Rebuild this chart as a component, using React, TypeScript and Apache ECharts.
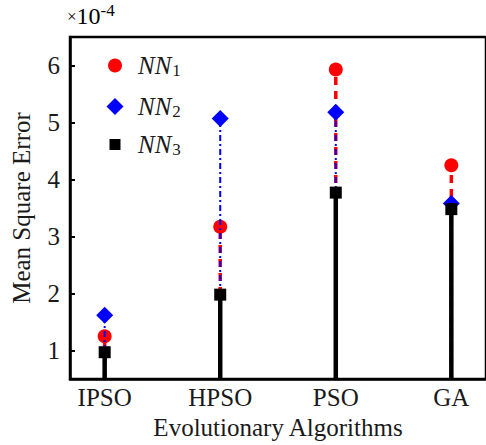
import React, { useEffect, useRef } from "react";
import * as echarts from "echarts";

const categories = ["IPSO", "HPSO", "PSO", "GA"];
const nn1 = [1.25, 3.17, 5.93, 4.25];
const nn2 = [1.62, 5.07, 5.18, 3.58];
const nn3 = [0.97, 1.98, 3.77, 3.48];
const yTicks = [1, 2, 3, 4, 5, 6];

const FONT = "Liberation Serif";
const TXT = "#1a1a1a";
const FS = 25;

type StemCfg = {
  name: string;
  values: number[];
  color: string;
  lineWidth: number;
  lineDash: number[] | null;
  marker: "circle" | "diamond" | "square";
  size: number;
};

const stems: StemCfg[] = [
  { name: "NN1", values: nn1, color: "#ff0000", lineWidth: 3.5, lineDash: [8, 6], marker: "circle", size: 14 },
  { name: "NN2", values: nn2, color: "#0000ff", lineWidth: 2, lineDash: [6, 3, 2, 3], marker: "diamond", size: 17 },
  { name: "NN3", values: nn3, color: "#000000", lineWidth: 4.5, lineDash: null, marker: "square", size: 12 },
];

function makeSeries(cfg: StemCfg) {
  return {
    type: "custom",
    name: cfg.name,
    itemStyle: { color: cfg.color },
    data: cfg.values.map((v, i) => [i + 1, v]),
    encode: { x: 0, y: 1 },
    renderItem: (params: any, api: any) => {
      const p = api.coord([api.value(0), api.value(1)]);
      const cs = params.coordSys;
      const bottom = cs.y + cs.height;
      const children: any[] = [
        {
          type: "line",
          shape: { x1: p[0], y1: bottom, x2: p[0], y2: p[1] },
          style: {
            stroke: cfg.color,
            lineWidth: cfg.lineWidth,
            lineDash: cfg.lineDash || undefined,
            fill: null,
          },
        },
      ];
      const h = cfg.size / 2;
      if (cfg.marker === "circle") {
        children.push({ type: "circle", shape: { cx: p[0], cy: p[1], r: h }, style: { fill: cfg.color } });
      } else if (cfg.marker === "diamond") {
        children.push({
          type: "polygon",
          shape: { points: [[p[0], p[1] - h], [p[0] + h, p[1]], [p[0], p[1] + h], [p[0] - h, p[1]]] },
          style: { fill: cfg.color },
        });
      } else {
        children.push({ type: "rect", shape: { x: p[0] - h, y: p[1] - h, width: cfg.size, height: cfg.size }, style: { fill: cfg.color } });
      }
      return { type: "group", children };
    },
  };
}

const rich = {
  a: { fontFamily: FONT, fontStyle: "italic", fontSize: FS, color: TXT },
  b: { fontFamily: FONT, fontSize: 17, color: TXT, padding: [10, 0, 0, 1] },
};

function makeLegend(name: string, icon: string, w: number, h: number, cy: number) {
  const left = 110 - w / 2;
  return {
    data: [{ name, icon }],
    left,
    top: cy - 15,
    itemWidth: w,
    itemHeight: h,
    selectedMode: false,
    formatter: (n: string) => `{a|NN}{b|${n.slice(2)}}`,
    textStyle: { rich, padding: [0, 0, 0, 133 - (left + w + 5)] },
  };
}

export default function App() {
  const ref = useRef<HTMLDivElement>(null);
  useEffect(() => {
    document.body.style.margin = "0";
    const chart = echarts.init(ref.current!, null, { renderer: "svg" });
    chart.setOption({
      animation: false,
      backgroundColor: "#ffffff",
      grid: { left: 70, top: 37, right: -3, bottom: 65, show: true, borderColor: "#000", borderWidth: 2.5 },
      xAxis: {
        type: "value",
        min: 0.7,
        max: 4.3,
        splitNumber: 4,
        name: "Evolutionary Algorithms",
        nameLocation: "middle",
        nameGap: 36,
        nameTextStyle: { fontFamily: FONT, fontSize: FS, color: TXT },
        axisLine: { lineStyle: { color: "#000", width: 2.5 } },
        axisTick: { show: false },
        splitLine: { show: false },
        axisLabel: {
          fontFamily: FONT,
          fontSize: FS,
          color: TXT,
          margin: 6,
          showMinLabel: false,
          showMaxLabel: false,
          formatter: (v: number) => {
            const r = Math.round(v);
            return Math.abs(v - r) < 1e-6 && r >= 1 && r <= categories.length ? categories[r - 1] : "";
          },
        },
      },
      yAxis: {
        type: "value",
        min: 0.5,
        max: 6.5,
        splitNumber: 6,
        name: "Mean Square Error",
        nameLocation: "middle",
        nameGap: 36,
        nameTextStyle: { fontFamily: FONT, fontSize: FS, color: TXT },
        axisLine: { lineStyle: { color: "#000", width: 2.5 } },
        axisTick: { inside: true, length: 5, lineStyle: { color: "#000", width: 2 } },
        splitLine: { show: false },
        axisLabel: {
          fontFamily: FONT,
          fontSize: FS,
          color: TXT,
          margin: 10,
          showMinLabel: false,
          showMaxLabel: false,
          formatter: (v: number) => {
            const r = Math.round(v);
            return Math.abs(v - r) < 1e-6 && yTicks.includes(r) ? String(r) : "";
          },
        },
      },
      legend: [
        makeLegend("NN1", "circle", 14, 14, 63),
        makeLegend("NN2", "diamond", 17, 17, 104),
        makeLegend("NN3", "rect", 11, 11, 142),
      ],
      graphic: [
        {
          type: "text",
          left: 67,
          top: 2,
          style: {
            text: "{x|×}{t|10}{s|-4}",
            rich: {
              x: { fontFamily: FONT, fontSize: 17, color: TXT },
              t: { fontFamily: FONT, fontSize: 24, color: TXT },
              s: { fontFamily: FONT, fontSize: 17, color: TXT, padding: [0, 0, 11, 0] },
            },
          },
        },
      ],
      series: stems.map(makeSeries),
    });
    return () => chart.dispose();
  }, []);
  return <div ref={ref} style={{ width: 486, height: 445 }} />;
}
